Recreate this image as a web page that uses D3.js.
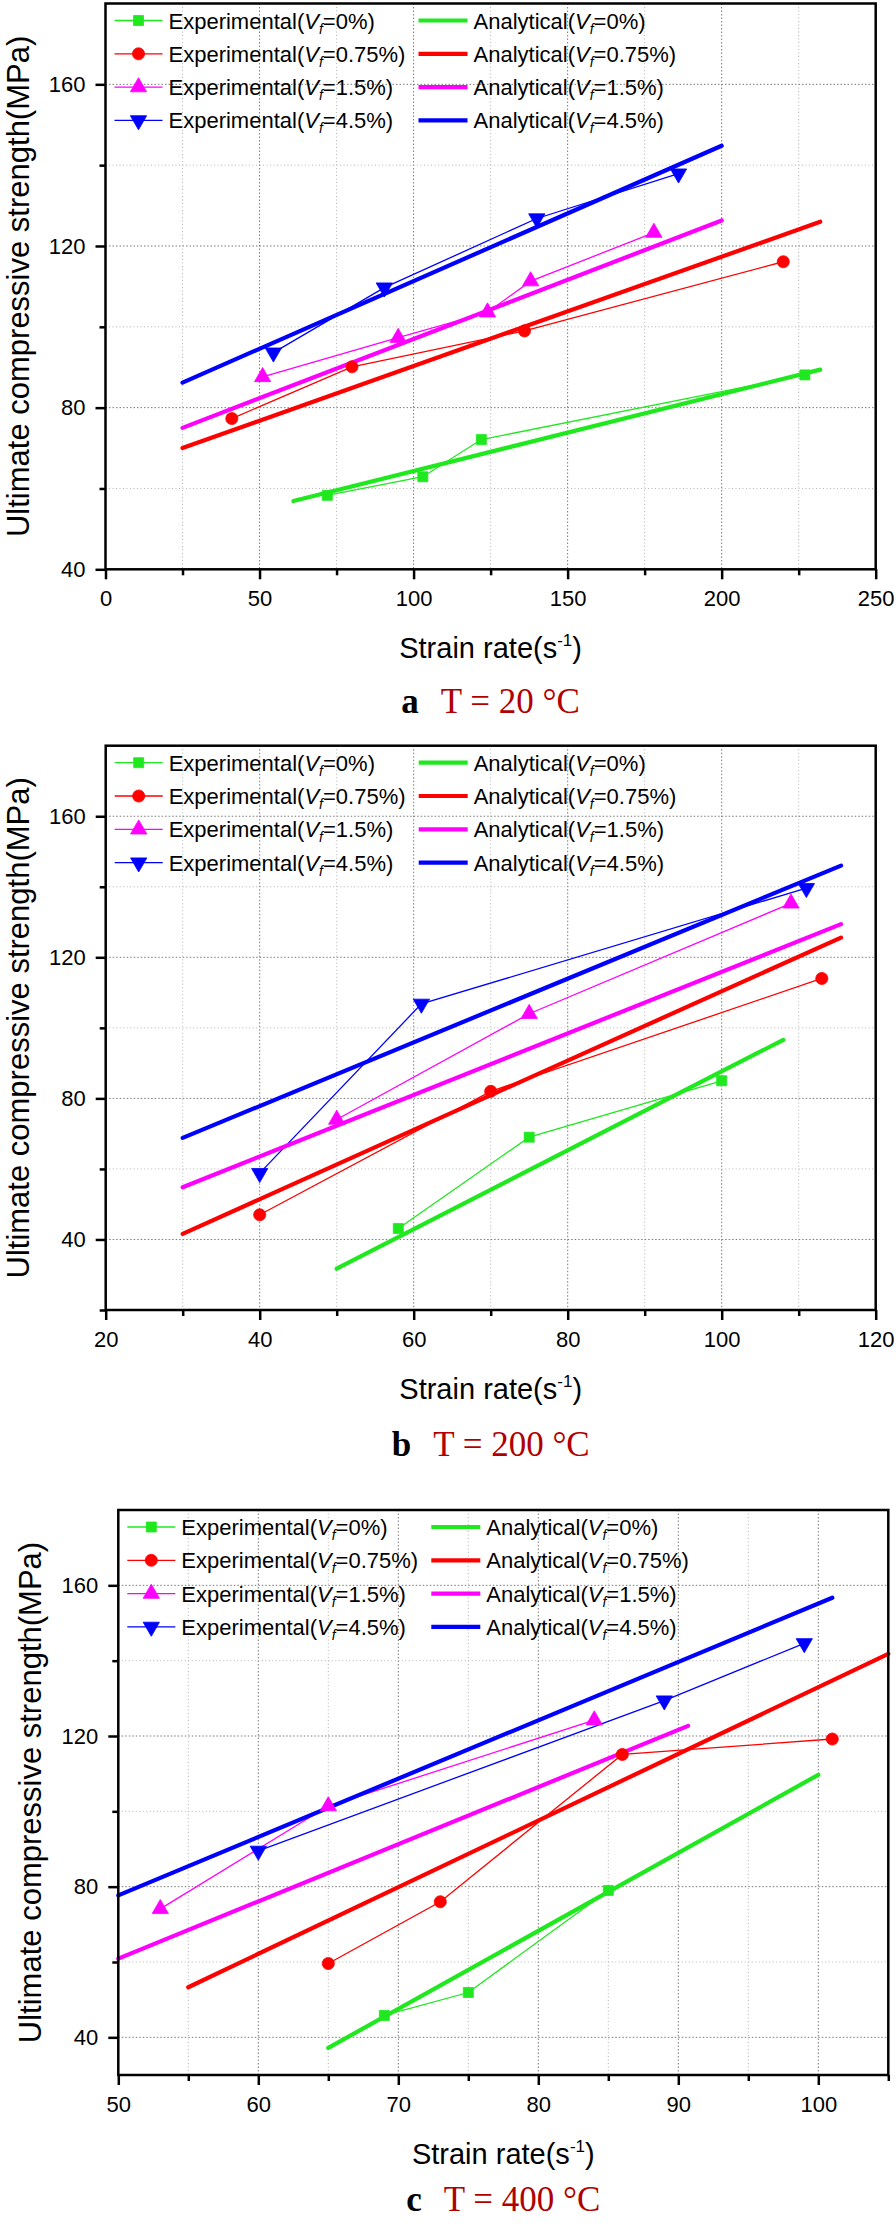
<!DOCTYPE html>
<html><head><meta charset="utf-8">
<script src="https://cdn.jsdelivr.net/npm/d3@7"></script>
<style>body{margin:0;background:#fff} svg{display:block}</style>
</head><body>
<script>
// ---------- DATA ----------
const fractions = ["0%", "0.75%", "1.5%", "4.5%"];

// Panel a : T = 20 °C   [strain rate, strength]
const expA_V0   = [[72,58.3],[103,62.9],[122,72.1],[227,88.1]];
const expA_V075 = [[41,77.3],[80,90.1],[136,99],[220,116.1]];
const expA_V15  = [[51,87.6],[95,97.3],[124,103.6],[138,111.3],[178,123.3]];
const expA_V45  = [[54.5,93.6],[90.5,109.7],[140,126.8],[186,137.9]];
const anaA_V0   = [[61,56.9],[232,89.4]];
const anaA_V075 = [[25,70],[232,126]];
const anaA_V15  = [[25,75],[200,126.3]];
const anaA_V45  = [[25,86.2],[200,144.8]];

// Panel b : T = 200 °C
const expB_V0   = [[58,43.1],[75,69],[100,85]];
const expB_V075 = [[40,47],[70,82],[113,114]];
const expB_V15  = [[50,74],[75,104],[109,135.3]];
const expB_V45  = [[40,58.8],[61,106.8],[111,139.6]];
const anaB_V0   = [[50,31.7],[108,96.6]];
const anaB_V075 = [[30,41.6],[115.5,125.6]];
const anaB_V15  = [[30,54.8],[115.5,129.4]];
const anaB_V45  = [[30,68.8],[115.5,146]];

// Panel c : T = 400 °C
const expC_V0   = [[69,45.8],[75,51.9],[85,79]];
const expC_V075 = [[65,59.6],[73,76],[86,115.1],[101,119.2]];
const expC_V15  = [[53,74.1],[65,101.4],[84,124.2]];
const expC_V45  = [[60,89.5],[89,129.4],[99,144.6]];
const anaC_V0   = [[65,37.2],[100,109.7]];
const anaC_V075 = [[55,53.3],[105,141.8]];
const anaC_V15  = [[50,60.9],[90.7,122.7]];
const anaC_V45  = [[50,77.7],[101,156.7]];

// Axis ticks
const xTicksA = [0,50,100,150,200,250],  xMinorA = [25,75,125,175,225];
const yTicksA = [40,80,120,160],         yMinorA = [60,100,140];
const xTicksB = [20,40,60,80,100,120],   xMinorB = [30,50,70,90,110];
const yTicksB = [40,80,120,160],         yMinorB = [20,60,100,140];
const xTicksC = [50,60,70,80,90,100],    xMinorC = [55,65,75,85,95,105];
const yTicksC = [40,80,120,160],         yMinorC = [60,100,140];

const xDomainA = [0,250],  yDomainA = [40,180];
const xDomainB = [20,120], yDomainB = [20,180];
const xDomainC = [50,105], yDomainC = [30,180];

const captions = [["a","T = 20 °C"],["b","T = 200 °C"],["c","T = 400 °C"]];
const xTitle = "Strain rate(s";
const yTitle = "Ultimate compressive strength(MPa)";

// ---------- STYLE ----------
const colors = ["#1fe81f","#ff0000","#ff00ff","#0000ff"];
const symbols = [d3.symbolSquare, d3.symbolCircle, d3.symbolTriangle, d3.symbolTriangle];
const symSizes = [100, 115, 115, 115];
const symRot = [0,0,0,180];

const W = 896, H = 2226;
const svg = d3.select("body").append("svg").attr("width", W).attr("height", H)
  .attr("font-family", "'Liberation Sans', Arial, sans-serif");
svg.append("rect").attr("width", W).attr("height", H).attr("fill", "#fff");

const panels = [
  {exp:[expA_V0,expA_V075,expA_V15,expA_V45], ana:[anaA_V0,anaA_V075,anaA_V15,anaA_V45],
   xd:xDomainA, yd:yDomainA, xT:xTicksA, xM:xMinorA, yT:yTicksA, yM:yMinorA, cap:captions[0],
   l:105.5, r:875.7, t:3.5, b:569.3, capOff:144},
  {exp:[expB_V0,expB_V075,expB_V15,expB_V45], ana:[anaB_V0,anaB_V075,anaB_V15,anaB_V45],
   xd:xDomainB, yd:yDomainB, xT:xTicksB, xM:xMinorB, yT:yTicksB, yM:yMinorB, cap:captions[1],
   l:105.7, r:875.7, t:745.7, b:1310, capOff:146},
  {exp:[expC_V0,expC_V075,expC_V15,expC_V45], ana:[anaC_V0,anaC_V075,anaC_V15,anaC_V45],
   xd:xDomainC, yd:yDomainC, xT:xTicksC, xM:xMinorC, yT:yTicksC, yM:yMinorC, cap:captions[2],
   l:118.3, r:888.3, t:1510, b:2075, capOff:136}
];

function vfText(sel, prefix, frac) {
  sel.append("tspan").text(prefix + "(");
  sel.append("tspan").attr("font-style","italic").text("V");
  sel.append("tspan").attr("font-style","italic").attr("font-size",14).attr("dy",5).text("f");
  sel.append("tspan").attr("dy",-5).text("=" + frac + ")");
}

function marker(g, i, x, y) {
  g.append("path")
    .attr("d", d3.symbol().type(symbols[i]).size(symSizes[i])())
    .attr("transform", `translate(${x},${y}) rotate(${symRot[i]})`)
    .attr("fill", colors[i]).attr("stroke", colors[i]).attr("stroke-width", 0.8);
}

panels.forEach(p => {
  const g = svg.append("g");
  const x = d3.scaleLinear().domain(p.xd).range([p.l, p.r]);
  const y = d3.scaleLinear().domain(p.yd).range([p.b, p.t]);

  // grid
  const grid = g.append("g");
  const inX = v => v > p.xd[0] && v < p.xd[1];
  const inY = v => v > p.yd[0] && v < p.yd[1];
  [[p.xT, "#7a7a7a", "1.5,2"], [p.xM, "#b5b5b5", "1,2.5"]].forEach(([vals, c, d]) => {
    grid.selectAll(null).data(vals.filter(inX)).enter().append("line")
      .attr("x1", v => x(v)).attr("x2", v => x(v)).attr("y1", p.t).attr("y2", p.b)
      .attr("stroke", c).attr("stroke-width", 1).attr("stroke-dasharray", d);
  });
  [[p.yT, "#7a7a7a", "1.5,2"], [p.yM, "#b5b5b5", "1,2.5"]].forEach(([vals, c, d]) => {
    grid.selectAll(null).data(vals.filter(inY)).enter().append("line")
      .attr("y1", v => y(v)).attr("y2", v => y(v)).attr("x1", p.l).attr("x2", p.r)
      .attr("stroke", c).attr("stroke-width", 1).attr("stroke-dasharray", d);
  });

  const line = d3.line().x(d => x(d[0])).y(d => y(d[1]));
  // experimental lines
  p.exp.forEach((s, i) => {
    g.append("path").attr("d", line(s)).attr("fill","none")
      .attr("stroke", colors[i]).attr("stroke-width", 1.3);
  });
  // analytical lines
  p.ana.forEach((s, i) => {
    g.append("path").attr("d", line(s)).attr("fill","none")
      .attr("stroke", colors[i]).attr("stroke-width", 4.2).attr("stroke-linecap","round");
  });
  // markers
  p.exp.forEach((s, i) => s.forEach(d => marker(g, i, x(d[0]), y(d[1]))));

  // legend
  const lg = g.append("g").attr("font-size", 22).attr("fill", "#000");
  fractions.forEach((f, i) => {
    const ry = p.t + 17 + i * 33.3;
    lg.append("line").attr("x1", p.l + 9).attr("x2", p.l + 57).attr("y1", ry).attr("y2", ry)
      .attr("stroke", colors[i]).attr("stroke-width", 1.3);
    marker(lg, i, p.l + 33, ry);
    vfText(lg.append("text").attr("x", p.l + 63).attr("y", ry + 8), "Experimental", f);
    lg.append("line").attr("x1", p.l + 313).attr("x2", p.l + 362).attr("y1", ry).attr("y2", ry)
      .attr("stroke", colors[i]).attr("stroke-width", 4.2);
    vfText(lg.append("text").attr("x", p.l + 368).attr("y", ry + 8), "Analytical", f);
  });

  // axes
  const axB = g.append("g").attr("transform", `translate(0,${p.b})`)
    .call(d3.axisBottom(x).tickValues(p.xT).tickSize(10).tickPadding(11).tickFormat(d3.format("d")));
  const axBm = g.append("g").attr("transform", `translate(0,${p.b})`)
    .call(d3.axisBottom(x).tickValues(p.xM).tickSize(6).tickFormat(""));
  const axL = g.append("g").attr("transform", `translate(${p.l},0)`)
    .call(d3.axisLeft(y).tickValues(p.yT).tickSize(10).tickPadding(10).tickFormat(d3.format("d")));
  const axLm = g.append("g").attr("transform", `translate(${p.l},0)`)
    .call(d3.axisLeft(y).tickValues(p.yM).tickSize(6).tickFormat(""));
  [axB, axBm, axL, axLm].forEach(a => {
    a.select(".domain").remove();
    a.selectAll(".tick line").attr("stroke", "#000").attr("stroke-width", 2.5);
    a.selectAll(".tick text").attr("font-size", 22).attr("fill", "#000")
      .attr("font-family", "'Liberation Sans', Arial, sans-serif");
  });

  // frame
  g.append("rect").attr("x", p.l).attr("y", p.t).attr("width", p.r - p.l).attr("height", p.b - p.t)
    .attr("fill", "none").attr("stroke", "#000").attr("stroke-width", 2.5);

  // axis titles
  const xt = g.append("text").attr("x", (p.l + p.r) / 2).attr("y", p.b + 89)
    .attr("text-anchor", "middle").attr("font-size", 29).attr("fill", "#000");
  xt.append("tspan").text(xTitle);
  xt.append("tspan").attr("font-size", 17).attr("dy", -12).text("-1");
  xt.append("tspan").attr("dy", 12).text(")");

  g.append("text")
    .attr("transform", `translate(${p.l - 77},${(p.t + p.b) / 2}) rotate(-90)`)
    .attr("text-anchor", "middle").attr("font-size", 31).attr("fill", "#000").text(yTitle);

  // caption
  const cap = g.append("text").attr("x", (p.l + p.r) / 2).attr("y", p.b + p.capOff)
    .attr("text-anchor", "middle").attr("font-family", "'Liberation Serif', 'Times New Roman', serif")
    .attr("font-size", 35);
  cap.append("tspan").attr("font-weight", "bold").attr("fill", "#000").text(p.cap[0]);
  cap.append("tspan").attr("dx", 22).attr("fill", "#b00000").text(p.cap[1]);
});
</script>
</body></html>
